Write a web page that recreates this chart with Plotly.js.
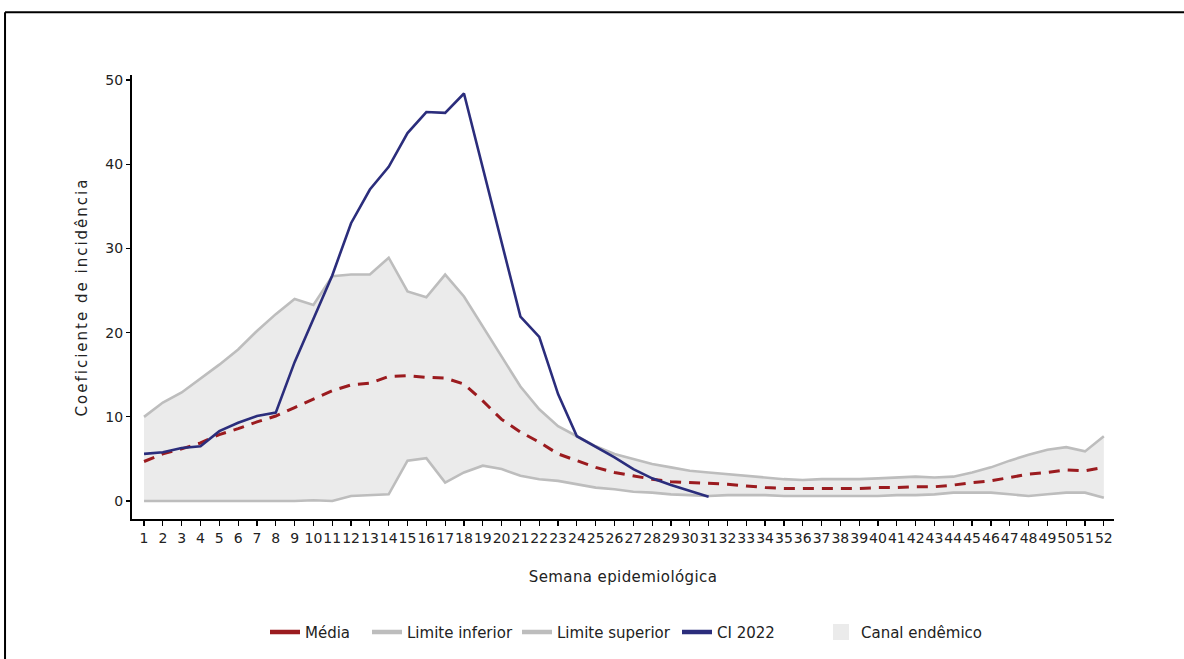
<!DOCTYPE html>
<html>
<head>
<meta charset="utf-8">
<script src="https://cdn.plot.ly/plotly-3.0.1.min.js"></script>
<style>
  html, body { margin: 0; padding: 0; background: #ffffff; }
  #chart { width: 1184px; height: 659px; }
  /* títulos dos eixos com espaçamento entre letras */
  #chart .ytitle { letter-spacing: 2px; }
  #chart .xtitle { letter-spacing: 0.4px; }
</style>
</head>
<body>
<div id="chart"></div>
<script>
// Semanas epidemiológicas 1..52
const semanas = Array.from({length: 52}, (_, i) => i + 1);

// Média histórica do coeficiente de incidência
const media = [4.7, 5.6, 6.2, 6.9, 7.9, 8.6, 9.4, 10.1, 11.1, 12.1,
               13.1, 13.8, 14.0, 14.8, 14.9, 14.7, 14.6, 13.9, 11.9, 9.7,
               8.2, 7.0, 5.6, 4.8, 4.0, 3.4, 3.0, 2.6, 2.3, 2.2,
               2.1, 2.0, 1.8, 1.6, 1.5, 1.5, 1.5, 1.5, 1.5, 1.6,
               1.6, 1.7, 1.7, 1.9, 2.2, 2.4, 2.8, 3.2, 3.4, 3.7,
               3.6, 4.0];

// Limite inferior do canal endêmico
const limiteInferior = [0.0, 0.0, 0.0, 0.0, 0.0, 0.0, 0.0, 0.0, 0.0, 0.1,
                        0.0, 0.6, 0.7, 0.8, 4.8, 5.1, 2.2, 3.4, 4.2, 3.8,
                        3.0, 2.6, 2.4, 2.0, 1.6, 1.4, 1.1, 1.0, 0.8, 0.7,
                        0.6, 0.7, 0.7, 0.7, 0.6, 0.6, 0.6, 0.6, 0.6, 0.6,
                        0.7, 0.7, 0.8, 1.0, 1.0, 1.0, 0.8, 0.6, 0.8, 1.0,
                        1.0, 0.4];

// Limite superior do canal endêmico
const limiteSuperior = [10.0, 11.7, 12.9, 14.5, 16.2, 18.0, 20.2, 22.2, 24.0, 23.3,
                        26.7, 26.9, 26.9, 28.9, 24.9, 24.2, 26.9, 24.3, 20.7, 17.2,
                        13.6, 10.9, 8.9, 7.7, 6.5, 5.6, 5.0, 4.4, 4.0, 3.6,
                        3.4, 3.2, 3.0, 2.8, 2.6, 2.5, 2.6, 2.6, 2.6, 2.7,
                        2.8, 2.9, 2.8, 2.9, 3.4, 4.0, 4.8, 5.5, 6.1, 6.4,
                        5.9, 7.7];

// Coeficiente de incidência de 2022 (semanas 1..31)
const semanas2022 = semanas.slice(0, 31);
const ci2022 = [5.6, 5.8, 6.3, 6.5, 8.3, 9.3, 10.1, 10.5, 16.5, 21.6,
                26.8, 33.0, 37.0, 39.7, 43.7, 46.2, 46.1, 48.4, 39.6, 30.8,
                21.9, 19.5, 12.7, 7.7, 6.5, 5.2, 3.8, 2.7, 1.9, 1.2,
                0.5];

const yTicks = [0, 10, 20, 30, 40, 50];

const fonte = 'DejaVu Sans, Noto Sans, sans-serif';
const corTexto = '#222222';

const corMedia = '#9b1b1f';
const corLimite = '#bdbdbd';
const corCI = '#2b2d7c';
const corCanal = '#ebebeb';

// chave de legenda: traço sem dados, apenas para o símbolo
const chaveLinha = (nome, cor, legenda) => ({
  x: [null], y: [null], type: 'scatter', mode: 'lines',
  line: {color: cor, width: 4.5}, name: nome, legend: legenda, hoverinfo: 'skip'
});

const traces = [
  // base invisível do canal
  {
    x: semanas, y: limiteInferior, type: 'scatter', mode: 'lines',
    line: {width: 0, color: 'rgba(0,0,0,0)'},
    showlegend: false, hoverinfo: 'skip'
  },
  // área do canal endêmico
  {
    x: semanas, y: limiteSuperior, type: 'scatter', mode: 'lines',
    fill: 'tonexty', fillcolor: corCanal,
    line: {width: 0, color: corCanal},
    name: 'Canal endêmico', showlegend: false
  },
  {
    x: semanas, y: limiteInferior, type: 'scatter', mode: 'lines',
    line: {color: corLimite, width: 2.6},
    name: 'Limite inferior', showlegend: false
  },
  {
    x: semanas, y: limiteSuperior, type: 'scatter', mode: 'lines',
    line: {color: corLimite, width: 2.6},
    name: 'Limite superior', showlegend: false
  },
  {
    x: semanas, y: media, type: 'scatter', mode: 'lines',
    line: {color: corMedia, width: 3, dash: '11px,8px'},
    name: 'Média', showlegend: false
  },
  {
    x: semanas2022, y: ci2022, type: 'scatter', mode: 'lines',
    line: {color: corCI, width: 2.6},
    name: 'CI 2022', showlegend: false
  },
  // chaves da legenda
  chaveLinha('Média', corMedia, 'legend'),
  chaveLinha('Limite inferior', corLimite, 'legend2'),
  chaveLinha('Limite superior', corLimite, 'legend3'),
  chaveLinha('CI 2022', corCI, 'legend4'),
  {
    x: [null], y: [null], type: 'scatter', mode: 'markers',
    marker: {symbol: 'square', size: 24, color: corCanal, line: {width: 0}},
    name: 'Canal endêmico', legend: 'legend5', hoverinfo: 'skip'
  }
];

// cada item da legenda em sua própria caixa, lado a lado
const legendaBase = {
  orientation: 'h', xanchor: 'left', yanchor: 'middle', y: -0.252,
  font: {family: fonte, size: 15, color: corTexto},
  bgcolor: 'rgba(0,0,0,0)', borderwidth: 0, traceorder: 'normal'
};
const px = v => (v - 132) / 982;

const layout = {
  width: 1184, height: 659,
  margin: {l: 132, r: 70, t: 75, b: 139},
  paper_bgcolor: '#ffffff',
  plot_bgcolor: '#ffffff',
  font: {family: fonte, size: 14, color: corTexto},
  showlegend: true,
  legend:  Object.assign({}, legendaBase, {x: px(265)}),
  legend2: Object.assign({}, legendaBase, {x: px(367)}),
  legend3: Object.assign({}, legendaBase, {x: px(517)}),
  legend4: Object.assign({}, legendaBase, {x: px(677)}),
  legend5: Object.assign({}, legendaBase, {x: px(821)}),
  xaxis: {
    range: [0.36, 52.54],
    tickmode: 'array', tickvals: semanas, ticktext: semanas.map(String),
    tickangle: 0,
    showgrid: false, zeroline: false,
    showline: true, linecolor: '#000000', linewidth: 2,
    ticks: 'outside', ticklen: 5, tickwidth: 1.2, tickcolor: '#000000',
    tickfont: {family: fonte, size: 14, color: corTexto},
    title: {text: 'Semana epidemiológica', standoff: 27,
            font: {family: fonte, size: 15, color: corTexto}},
    automargin: false, fixedrange: true
  },
  yaxis: {
    range: [-2.13, 50.6],
    tickmode: 'array', tickvals: yTicks, ticktext: yTicks.map(String),
    showgrid: false, zeroline: false,
    showline: true, linecolor: '#000000', linewidth: 2,
    ticks: 'outside', ticklen: 4, tickwidth: 1.2, tickcolor: '#000000',
    tickfont: {family: fonte, size: 14, color: corTexto},
    title: {text: 'Coeficiente de incidência', standoff: 14,
            font: {family: fonte, size: 15, color: corTexto}},
    automargin: false, fixedrange: true
  },
  shapes: [
    // moldura superior e esquerda
    {type: 'line', xref: 'paper', yref: 'paper',
     x0: -0.1293, y0: 1.1416, x1: 1.0896, y1: 1.1416,
     line: {color: '#000000', width: 2}},
    {type: 'line', xref: 'paper', yref: 'paper',
     x0: -0.1293, y0: -0.32, x1: -0.1293, y1: 1.1416,
     line: {color: '#000000', width: 2}}
  ]
};

Plotly.newPlot('chart', traces, layout, {displayModeBar: false, staticPlot: true});
</script>
</body>
</html>
